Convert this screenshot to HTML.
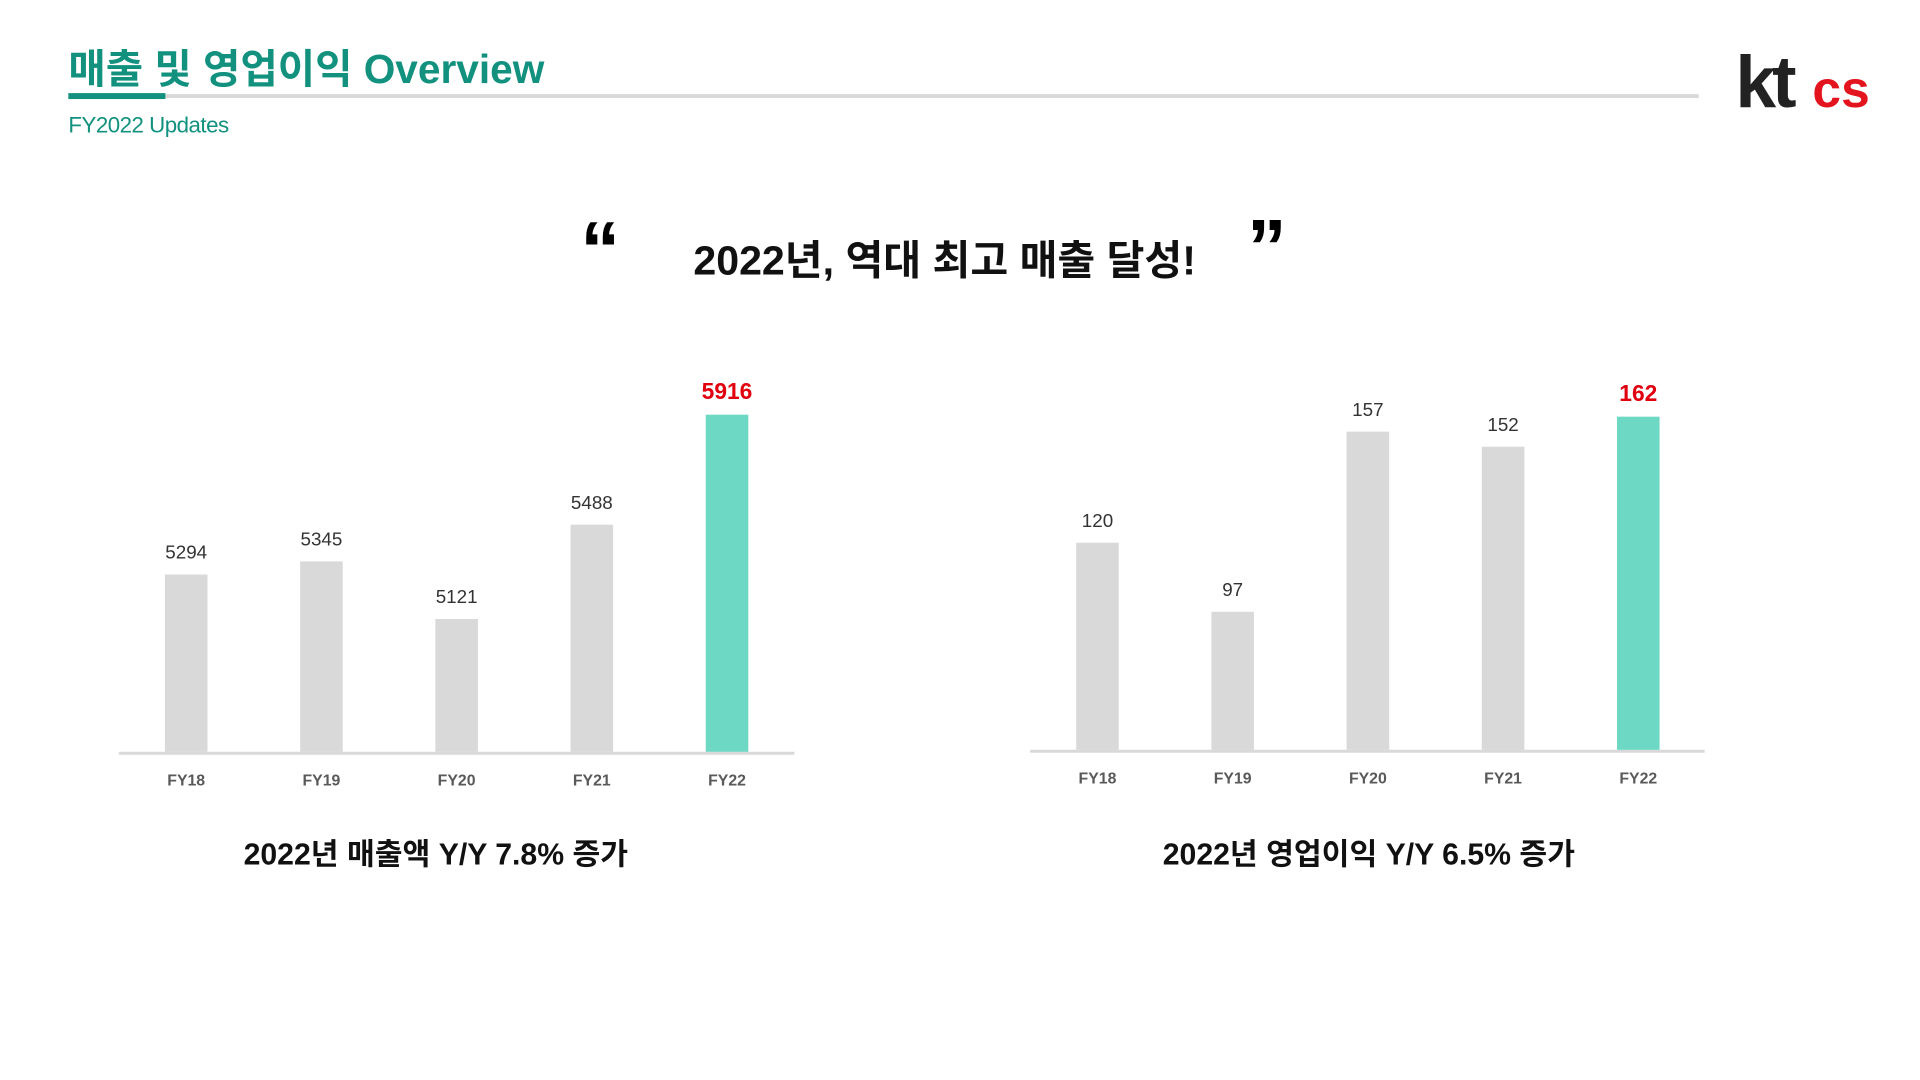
<!DOCTYPE html>
<html><head><meta charset="utf-8">
<style>
html,body{margin:0;padding:0;background:#fff;}
body{width:1920px;height:1080px;position:relative;overflow:hidden;font-family:"Liberation Sans","Noto Sans CJK KR",sans-serif;}
.abs{position:absolute;}
#wrap{position:absolute;left:0;top:0;width:1920px;height:1080px;transform:scale(0.9905);transform-origin:0 0;}
</style></head>
<body>
<div id="wrap">
<div class="abs" style="left:69px;top:36px;font-size:41px;font-weight:bold;color:#12917f;white-space:nowrap;">매출 및 영업이익 Overview</div>
<div class="abs" style="left:167px;top:95px;width:1548px;height:4px;background:#d9d9d9;"></div>
<div class="abs" style="left:69px;top:94px;width:98px;height:6px;background:#12917f;"></div>
<div class="abs" style="left:69px;top:114px;font-size:22.5px;color:#12917f;letter-spacing:-0.5px;white-space:nowrap;">FY2022 Updates</div>
<div class="abs" style="left:1752px;top:40px;white-space:nowrap;font-weight:bold;">
  <span style="font-size:74px;color:#222;letter-spacing:-4px;">kt</span><span style="font-size:52px;color:#e3141e;margin-left:20px;">cs</span>
</div>
<div class="abs" style="left:586px;top:212px;font-size:80px;font-weight:bold;line-height:80px;">“</div>
<div class="abs" style="left:1259px;top:210px;font-size:80px;font-weight:bold;line-height:80px;">”</div>
<div class="abs" style="left:700px;top:229px;font-size:41.5px;font-weight:bold;color:#111;white-space:nowrap;">2022년, 역대 최고 매출 달성!</div>

<svg class="abs" style="left:0;top:0" width="1920" height="1080" id="charts"></svg>
</div>
<script>
const categories = ["FY18","FY19","FY20","FY21","FY22"];
const revenueValues = [5294,5345,5121,5488,5916];
const profitValues = [120,97,157,152,162];
const revenueLabels = ["5294","5345","5121","5488","5916"];
const profitLabels = ["120","97","157","152","162"];

const NS="http://www.w3.org/2000/svg";
const svg=document.getElementById('charts');
function mk(tag,attrs){const e=document.createElementNS(NS,tag);for(const k in attrs)e.setAttribute(k,attrs[k]);svg.appendChild(e);return e;}

function drawChart(name, values, labels, cfg){
  const y = v => cfg.base - (v - cfg.vmin) * cfg.scale;
  const x = i => cfg.x0 + i * cfg.step;
  const axis = mk('line',{x1:cfg.ax1,x2:cfg.ax2,y1:cfg.base+1.5,y2:cfg.base+1.5,stroke:'#d9d9d9','stroke-width':3});
  
  
  values.forEach((v,i)=>{
    const last = i===values.length-1;
    const r = mk('rect',{x:x(i)-21.5,y:y(v),width:43,height:cfg.base-y(v),fill:last?'#6dd8c4':'#d9d9d9'});
    
    
    const t = mk('text',{x:x(i),y:y(v)-16,'text-anchor':'middle','font-size':last?23:19,'font-weight':last?'bold':'normal',fill:last?'#e0000e':'#333','font-family':'Liberation Sans, sans-serif'});
    t.textContent = labels[i];
    
    
    const c = mk('text',{x:x(i),y:cfg.base+34,'text-anchor':'middle','font-size':16,'font-weight':'bold',fill:'#595959','font-family':'Liberation Sans, sans-serif'});
    c.textContent = categories[i];
    
    
  });
  const cap = mk('text',{x:cfg.capx,y:873,'text-anchor':'middle','font-size':30.5,'font-weight':'bold',fill:'#111','font-family':'Liberation Sans, Noto Sans CJK KR, sans-serif'});
  cap.textContent = cfg.caption;
  
  
}
drawChart('revenue', revenueValues, revenueLabels, {base:759,vmin:4604,scale:0.2594,x0:188,step:136.5,ax1:120,ax2:802,capx:440,caption:'2022년 매출액 Y/Y 7.8% 증가'});
drawChart('profit', profitValues, profitLabels, {base:757,vmin:51,scale:3.03,x0:1108,step:136.5,ax1:1040,ax2:1721,capx:1382,caption:'2022년 영업이익 Y/Y 6.5% 증가'});
</script>
</body></html>
